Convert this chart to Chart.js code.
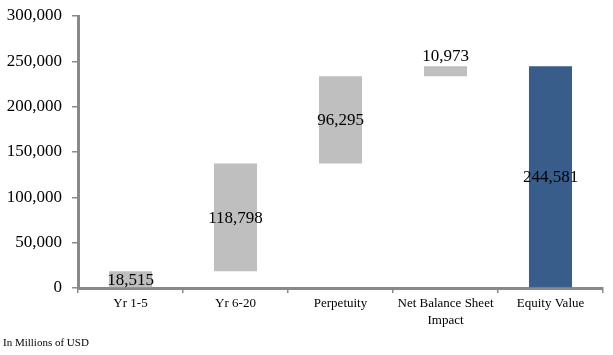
<!DOCTYPE html>
<html>
<head>
<meta charset="utf-8">
<script src="https://cdn.jsdelivr.net/npm/chart.js@4"></script>
<style>
html,body{margin:0;padding:0;background:#fff;}
#wrap{position:relative;width:613px;height:355px;}
</style>
</head>
<body>
<div id="wrap"><canvas id="c" width="613" height="355"></canvas></div>
<script>
const categories = ['Yr 1-5', 'Yr 6-20', 'Perpetuity', ['Net Balance Sheet', 'Impact'], 'Equity Value'];
const values = [18515, 118798, 96295, 10973, 244581];
const isTotal = [false, false, false, false, true];
const yTicks = [0, 50000, 100000, 150000, 200000, 250000, 300000];
const footnote = 'In Millions of USD';

const GRAY = '#BFBFBF';
const BLUE = '#385D8A';
const AXIS = '#898989';
const SERIF = '"Liberation Serif", "Times New Roman", serif';

// floating bar ranges for the waterfall
let running = 0;
const ranges = values.map((v, i) => {
  if (isTotal[i]) return [0, v];
  const r = [running, running + v];
  running += v;
  return r;
});

const fmt = v => v.toLocaleString('en-US');

const labelPlugin = {
  id: 'wfLabels',
  afterDatasetsDraw(chart) {
    const ctx = chart.ctx;
    const meta = chart.getDatasetMeta(0);
    ctx.save();
    ctx.fillStyle = '#000';
    ctx.font = '17px ' + SERIF;
    ctx.textAlign = 'center';
    meta.data.forEach((bar, i) => {
      const top = Math.min(bar.y, bar.base);
      const bottom = Math.max(bar.y, bar.base);
      const h = bottom - top;
      if (h < 20 && i !== 0) {
        ctx.textBaseline = 'bottom';
        ctx.fillText(fmt(values[i]), bar.x, top - 1);
      } else {
        ctx.textBaseline = 'middle';
        ctx.fillText(fmt(values[i]), bar.x, (top + bottom) / 2 + 1);
      }
    });
    ctx.restore();
  }
};

const footPlugin = {
  id: 'foot',
  afterDraw(chart) {
    const ctx = chart.ctx;
    ctx.save();
    ctx.fillStyle = '#000';
    ctx.font = '11px ' + SERIF;
    ctx.textAlign = 'left';
    ctx.textBaseline = 'middle';
    ctx.fillText(footnote, 3, 343);
    ctx.restore();
  }
};

new Chart(document.getElementById('c'), {
  type: 'bar',
  data: {
    labels: categories,
    datasets: [{
      data: ranges,
      backgroundColor: isTotal.map(t => t ? BLUE : GRAY),
      borderWidth: 0,
      barPercentage: 0.41,
      categoryPercentage: 1
    }]
  },
  options: {
    responsive: false,
    animation: false,
    devicePixelRatio: 1,
    layout: { padding: { top: 16, right: 10, left: 0, bottom: 0 } },
    plugins: { legend: { display: false }, tooltip: { enabled: false } },
    scales: {
      x: {
        grid: { offset: true, drawOnChartArea: false, drawTicks: true, tickLength: 5, color: AXIS, lineWidth: 1.5 },
        border: { display: true, color: AXIS, width: 3 },
        ticks: { color: '#000', font: { family: SERIF, size: 13, lineHeight: 1.3 }, padding: 2, maxRotation: 0, autoSkip: false },
        afterFit(scale) { scale.height = 67; scale.paddingLeft = 0; scale.paddingRight = 0; }
      },
      y: {
        min: 0, max: 300000,
        afterBuildTicks(scale) { scale.ticks = yTicks.map(v => ({ value: v })); },
        grid: { drawOnChartArea: false, drawTicks: true, tickLength: 6, color: AXIS, lineWidth: 1.5 },
        border: { display: true, color: AXIS, width: 3 },
        ticks: { color: '#000', font: { family: SERIF, size: 17 }, padding: 10, callback: v => fmt(v) },
        afterFit(scale) { scale.width = 78; scale.paddingTop = 0; scale.paddingBottom = 0; }
      }
    }
  },
  plugins: [labelPlugin, footPlugin]
});
</script>
</body>
</html>
